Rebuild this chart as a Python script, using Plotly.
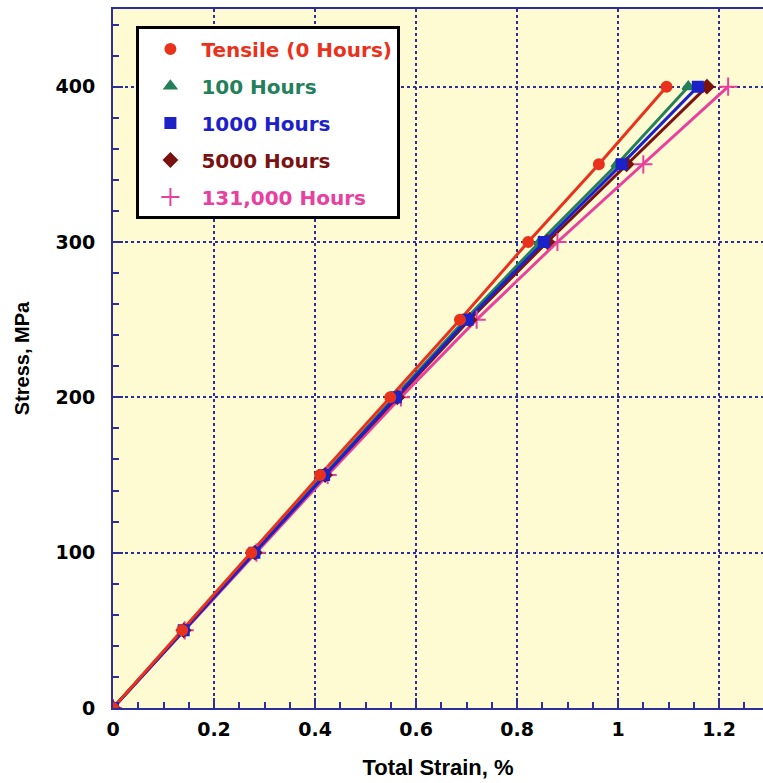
import plotly.graph_objects as go

stress = [0, 50, 100, 150, 200, 250, 300, 350, 400]

strain_tensile = [0, 0.137, 0.274, 0.410, 0.549, 0.687, 0.822, 0.962, 1.096]
strain_100h = [0, 0.139, 0.278, 0.416, 0.557, 0.697, 0.845, 0.998, 1.139]
strain_1000h = [0, 0.140, 0.280, 0.418, 0.560, 0.702, 0.853, 1.007, 1.158]
strain_5000h = [0, 0.140, 0.281, 0.420, 0.563, 0.706, 0.860, 1.017, 1.176]
strain_131000h = [0, 0.142, 0.284, 0.425, 0.570, 0.720, 0.880, 1.050, 1.218]

names = ["Tensile (0 Hours)", "100 Hours", "1000 Hours", "5000 Hours", "131,000 Hours"]
series = [strain_tensile, strain_100h, strain_1000h, strain_5000h, strain_131000h]
colors = ["#E8321C", "#24805A", "#1C22C8", "#7A1212", "#E8409E"]
symbols = ["circle", "triangle-up", "square", "diamond", "cross-thin"]
msizes = [10, 10, 10, 10, 13]

fig = go.Figure()
order = [4, 3, 1, 2, 0]
for i in order:
    fig.add_trace(go.Scatter(
        x=series[i], y=stress, mode="lines",
        line=dict(color=colors[i], width=3),
        showlegend=False, hoverinfo="skip",
    ))
for i in order:
    fig.add_trace(go.Scatter(
        x=series[i], y=stress,
        name="<span style='color:%s'>%s</span>" % (colors[i], names[i]),
        mode="markers",
        marker=dict(symbol=symbols[i], size=msizes[i], color=colors[i],
                    line=dict(color=colors[i], width=2)),
        legendgroup=names[i], legendrank=i + 1,
    ))

axis_color = "#2E2E9A"
tick_font = dict(size=19, family="DejaVu Sans, sans-serif", weight="bold", color="black")
fig.update_layout(
    width=763, height=783,
    margin=dict(l=113, r=0, t=9, b=75),
    paper_bgcolor="white",
    plot_bgcolor="#FEFBD2",
    font=dict(family="Liberation Sans, Arial, sans-serif", color="black"),
    showlegend=True,
    legend=dict(
        x=0.036, y=0.975, xanchor="left", yanchor="top",
        bgcolor="white", bordercolor="black", borderwidth=3,
        font=dict(size=20, family="DejaVu Sans, sans-serif", weight="bold"),
        traceorder="grouped", tracegroupgap=8,
        itemsizing="trace", itemwidth=52,
    ),
    xaxis=dict(
        range=[0, 1.287], tickvals=[0, 0.2, 0.4, 0.6, 0.8, 1, 1.2],
        ticktext=["0", "0.2", "0.4", "0.6", "0.8", "1", "1.2"],
        ticks="inside", ticklen=10, tickwidth=2, tickcolor=axis_color,
        minor=dict(dtick=0.05, ticks="inside", ticklen=6, tickwidth=1.5, tickcolor=axis_color, showgrid=False),
        showline=True, linecolor=axis_color, linewidth=2, mirror=True,
        showgrid=True, gridcolor=axis_color, griddash="dot", gridwidth=1.5,
        zeroline=False,
        tickfont=tick_font, ticklabelstandoff=3,
        title=dict(text="Total Strain, %",
                   font=dict(size=22, family="Liberation Sans, Arial, sans-serif", weight="bold", color="black"),
                   standoff=21),
    ),
    yaxis=dict(
        range=[0, 450], tickvals=[0, 100, 200, 300, 400],
        ticks="inside", ticklen=10, tickwidth=2, tickcolor=axis_color,
        minor=dict(dtick=20, ticks="inside", ticklen=6, tickwidth=1.5, tickcolor=axis_color, showgrid=False),
        showline=True, linecolor=axis_color, linewidth=2,
        showgrid=True, gridcolor=axis_color, griddash="dot", gridwidth=1.5,
        zeroline=False,
        tickfont=tick_font, ticklabelstandoff=12,
        title=dict(text="Stress, MPa",
                   font=dict(size=20, family="Liberation Sans, Arial, sans-serif", weight="bold", color="black"),
                   standoff=21),
    ),
)

fig.write_html("out.html")
